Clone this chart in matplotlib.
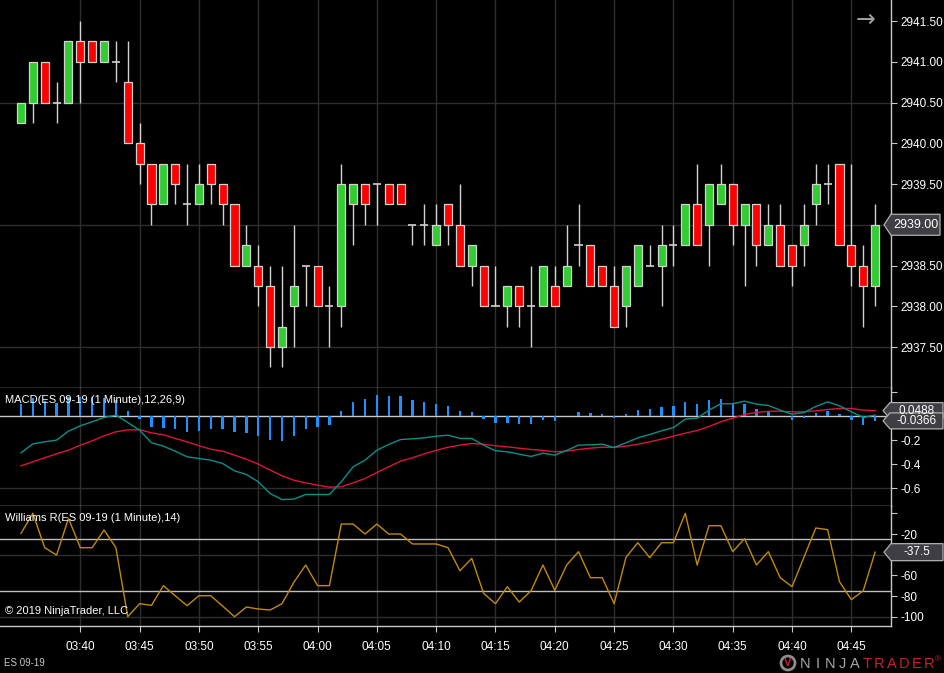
#!/usr/bin/env python3
"""ES 09-19 1-minute chart with MACD and Williams %R panels (NinjaTrader look)."""

import matplotlib

matplotlib.use("Agg")
import matplotlib.pyplot as plt  # noqa: E402
from matplotlib.patches import Polygon, Circle  # noqa: E402

# ---------------------------------------------------------------------------
# Data, one bar per minute from 03:35
# ---------------------------------------------------------------------------
OPEN = [
    2940.25, 2940.50, 2941.00, 2940.50, 2940.50, 2941.25, 2941.25, 2941.00, 2941.00, 2940.75,
    2940.00, 2939.75, 2939.25, 2939.75, 2939.25, 2939.25, 2939.75, 2939.50, 2939.25, 2938.50,
    2938.50, 2938.25, 2937.50, 2938.00, 2938.50, 2938.50, 2938.00, 2938.00, 2939.25, 2939.50,
    2939.50, 2939.50, 2939.50, 2939.00, 2939.00, 2938.75, 2939.25, 2939.00, 2938.50, 2938.50,
    2938.00, 2938.00, 2938.25, 2938.00, 2938.00, 2938.25, 2938.25, 2938.75, 2938.75, 2938.50,
    2938.25, 2938.00, 2938.25, 2938.50, 2938.50, 2938.75, 2938.75, 2939.25, 2939.00, 2939.25,
    2939.50, 2939.00, 2939.25, 2938.75, 2939.00, 2938.75, 2938.75, 2939.25, 2939.50, 2939.75,
    2938.75, 2938.50, 2938.25,
]
HIGH = [
    2940.50, 2941.00, 2941.00, 2940.75, 2941.25, 2941.50, 2941.25, 2941.25, 2941.25, 2941.25,
    2940.25, 2939.75, 2939.75, 2939.75, 2939.75, 2939.75, 2939.75, 2939.50, 2939.25, 2939.00,
    2938.75, 2938.50, 2938.50, 2939.00, 2938.50, 2938.50, 2938.25, 2939.75, 2939.50, 2939.50,
    2939.50, 2939.50, 2939.50, 2939.00, 2939.25, 2939.25, 2939.25, 2939.50, 2938.75, 2938.50,
    2938.50, 2938.25, 2938.25, 2938.50, 2938.50, 2938.50, 2939.00, 2939.25, 2938.75, 2938.50,
    2938.50, 2938.50, 2938.75, 2938.75, 2939.00, 2939.00, 2939.25, 2939.75, 2939.50, 2939.75,
    2939.50, 2939.25, 2939.25, 2939.25, 2939.25, 2938.75, 2939.25, 2939.75, 2939.75, 2939.75,
    2939.75, 2938.75, 2939.25,
]
LOW = [
    2940.25, 2940.25, 2940.50, 2940.25, 2940.50, 2940.50, 2941.00, 2941.00, 2940.75, 2940.00,
    2939.50, 2939.00, 2939.25, 2939.25, 2939.00, 2939.25, 2939.25, 2939.00, 2938.50, 2938.50,
    2938.00, 2937.25, 2937.25, 2937.50, 2938.00, 2938.00, 2937.50, 2937.75, 2938.75, 2939.00,
    2939.00, 2939.25, 2939.25, 2938.75, 2938.75, 2938.75, 2938.75, 2938.50, 2938.25, 2938.00,
    2938.00, 2937.75, 2937.75, 2937.50, 2938.00, 2938.00, 2938.25, 2938.50, 2938.25, 2938.25,
    2937.75, 2937.75, 2938.25, 2938.50, 2938.00, 2938.50, 2938.75, 2938.75, 2938.50, 2939.25,
    2938.75, 2938.25, 2938.50, 2938.75, 2938.50, 2938.25, 2938.50, 2939.00, 2939.25, 2938.75,
    2938.25, 2937.75, 2938.00,
]
CLOSE = [
    2940.50, 2941.00, 2940.50, 2940.50, 2941.25, 2941.00, 2941.00, 2941.25, 2941.00, 2940.00,
    2939.75, 2939.25, 2939.75, 2939.50, 2939.25, 2939.50, 2939.50, 2939.25, 2938.50, 2938.75,
    2938.25, 2937.50, 2937.75, 2938.25, 2938.50, 2938.00, 2938.00, 2939.50, 2939.50, 2939.25,
    2939.50, 2939.25, 2939.25, 2939.00, 2939.00, 2939.00, 2939.00, 2938.50, 2938.75, 2938.00,
    2938.00, 2938.25, 2938.00, 2938.00, 2938.50, 2938.00, 2938.50, 2938.75, 2938.25, 2938.25,
    2937.75, 2938.50, 2938.75, 2938.50, 2938.75, 2938.75, 2939.25, 2938.75, 2939.50, 2939.50,
    2939.00, 2939.25, 2938.75, 2939.00, 2938.50, 2938.50, 2939.00, 2939.50, 2939.50, 2938.75,
    2938.50, 2938.25, 2939.00,
]

MACD_LINE = [
    -0.303, -0.228, -0.211, -0.197, -0.122, -0.078, -0.044, -0.008, 0.011, -0.050,
    -0.114, -0.219, -0.247, -0.289, -0.336, -0.350, -0.364, -0.392, -0.453, -0.483,
    -0.544, -0.642, -0.692, -0.689, -0.650, -0.650, -0.650, -0.544, -0.419, -0.364,
    -0.281, -0.233, -0.192, -0.186, -0.178, -0.164, -0.156, -0.183, -0.183, -0.239,
    -0.286, -0.294, -0.314, -0.333, -0.306, -0.322, -0.283, -0.239, -0.236, -0.231,
    -0.258, -0.219, -0.178, -0.150, -0.119, -0.092, -0.022, -0.014, 0.053, 0.106,
    0.106, 0.128, 0.103, 0.092, 0.053, 0.019, 0.033, 0.083, 0.122, 0.089,
    0.039, -0.008, 0.012,
]
MACD_AVG = [
    -0.411, -0.378, -0.344, -0.311, -0.281, -0.239, -0.203, -0.161, -0.128, -0.111,
    -0.111, -0.136, -0.153, -0.183, -0.211, -0.244, -0.272, -0.289, -0.322, -0.356,
    -0.397, -0.447, -0.494, -0.531, -0.553, -0.572, -0.589, -0.586, -0.553, -0.517,
    -0.467, -0.419, -0.372, -0.344, -0.311, -0.283, -0.256, -0.239, -0.225, -0.231,
    -0.244, -0.253, -0.264, -0.275, -0.283, -0.294, -0.289, -0.275, -0.264, -0.256,
    -0.258, -0.247, -0.231, -0.211, -0.189, -0.164, -0.139, -0.117, -0.083, -0.044,
    -0.014, 0.017, 0.033, 0.044, 0.044, 0.039, 0.039, 0.047, 0.058, 0.067,
    0.067, 0.053, 0.0488,
]
MACD_DIFF = [
    0.108, 0.150, 0.133, 0.114, 0.159, 0.161, 0.159, 0.153, 0.139, 0.044,
    -0.017, -0.086, -0.094, -0.108, -0.128, -0.119, -0.103, -0.103, -0.133, -0.136,
    -0.161, -0.200, -0.203, -0.161, -0.103, -0.086, -0.067, 0.044, 0.117, 0.144,
    0.178, 0.169, 0.169, 0.136, 0.119, 0.103, 0.086, 0.044, 0.039, -0.017,
    -0.053, -0.053, -0.064, -0.064, -0.028, -0.036, 0.003, 0.039, 0.031, 0.019,
    -0.011, 0.019, 0.056, 0.064, 0.078, 0.089, 0.122, 0.103, 0.139, 0.144,
    0.114, 0.103, 0.064, 0.047, 0.005, -0.028, -0.011, 0.031, 0.047, 0.017,
    -0.028, -0.069, -0.0366,
]

WILLIAMS_R = [
    -19.4, 0.0, -33.2, -40.3, -4.9, -33.2, -33.2, -16.1, -33.2, -99.7,
    -87.2, -88.8, -69.8, -79.5, -89.1, -79.5, -79.5, -89.5, -99.7, -90.4,
    -92.3, -93.3, -87.2, -66.6, -49.9, -69.8, -69.8, -10.4, -10.4, -20.0,
    -10.4, -20.0, -20.0, -29.6, -29.6, -29.6, -33.2, -55.4, -43.5, -77.2,
    -87.2, -70.8, -85.6, -74.7, -49.9, -74.3, -49.9, -37.0, -62.1, -62.1,
    -87.2, -42.5, -28.4, -42.8, -28.4, -28.4, 0.0, -49.9, -12.0, -12.0,
    -37.0, -24.5, -49.9, -37.0, -62.1, -70.8, -42.5, -14.2, -15.8, -66.0,
    -83.3, -74.7, -37.5,
]

TIME_TICKS = [5, 10, 15, 20, 25, 30, 35, 40, 45, 50, 55, 60, 65, 70]
TIME_LABELS = ["03:40", "03:45", "03:50", "03:55", "04:00", "04:05", "04:10",
               "04:15", "04:20", "04:25", "04:30", "04:35", "04:40", "04:45"]

PRICE_TICKS = [2937.5, 2938.0, 2938.5, 2939.0, 2939.5, 2940.0, 2940.5, 2941.0, 2941.5]
PRICE_GRID = [2937.5, 2939.0, 2940.5]
MACD_TICKS = [0.2, 0.0, -0.2, -0.4, -0.6]
MACD_TICK_LABELS = ["", "", "-0.2", "-0.4", "-0.6"]
WR_TICKS = [0, -20, -40, -60, -80, -100]
WR_TICK_LABELS = ["", "-20", "", "-60", "-80", "-100"]
WR_GRID = [-40, -100]
WR_LEVELS = [-25, -75]

# ---------------------------------------------------------------------------
# Style
# ---------------------------------------------------------------------------
W, H = 944, 673
FONT = ["Liberation Sans", "DejaVu Sans"]
BG = "#000000"
GRID = "#2e2e2e"
BORDER = "#c8c8c8"
CANDLE_EDGE = "#d2d2d2"
UP = "#32cd32"
DOWN = "#ff0000"
LABEL_SIZE = 8.5


def px(x, y):
    """Pixel position (from top-left) -> figure fraction."""
    return x / W, 1.0 - y / H


def setup_axis(ax, ylim, ticks, labels):
    ax.set_facecolor(BG)
    ax.set_xlim(-1.77, 73.3)
    ax.set_ylim(*ylim)
    for side in ("left", "top"):
        ax.spines[side].set_visible(False)
    for side in ("right", "bottom"):
        ax.spines[side].set_color(BORDER)
        ax.spines[side].set_linewidth(1.0)
    ax.yaxis.tick_right()
    ax.set_yticks(ticks)
    ax.set_yticklabels(labels)
    ax.tick_params(axis="y", colors=BORDER, labelcolor="white", length=4,
                   width=0.8, pad=3, labelsize=LABEL_SIZE)
    for t in ax.get_yticklabels():
        t.set_family(FONT)
    ax.set_xticks(TIME_TICKS)
    ax.tick_params(axis="x", colors=BORDER, length=0, labelbottom=False)
    for xt in TIME_TICKS:
        ax.axvline(xt, color=GRID, lw=1.0, zorder=0)


def marker_box(fig, ax, value, text, x_tip, x_right, height, size):
    y_disp = ax.transData.transform((0, value))[1]
    y = H - y_disp
    h2 = height / 2.0
    pts = [px(x_tip, y), px(x_tip + 7, y - h2), px(x_right, y - h2),
           px(x_right, y + h2), px(x_tip + 7, y + h2)]
    fig.patches.append(Polygon(pts, closed=True, transform=fig.transFigure,
                               facecolor="#3e3e44", edgecolor="#b0b0b0",
                               lw=0.9, zorder=10))
    fig.text(*px((x_tip + 7 + x_right) / 2.0, y), text, color="white",
             fontsize=size, family=FONT, ha="center", va="center", zorder=11)


def main():
    fig = plt.figure(figsize=(W / 100, H / 100), dpi=100, facecolor=BG)

    right = 890.5 / W
    ax_p = fig.add_axes([0, 1 - 388 / H, right, 388 / H])
    ax_m = fig.add_axes([0, 1 - 506 / H, right, (506 - 388) / H])
    ax_w = fig.add_axes([0, 1 - 625.7 / H, right, (625.7 - 506) / H])

    # --- price panel -------------------------------------------------------
    # the last-price marker sits on top of its own tick label
    price_labels = ["" if v == CLOSE[-1] else f"{v:.2f}" for v in PRICE_TICKS]
    setup_axis(ax_p, (2936.997, 2941.758), PRICE_TICKS, price_labels)
    for g in PRICE_GRID:
        ax_p.axhline(g, color=GRID, lw=1.0, zorder=0)
    xs = list(range(len(OPEN)))
    ax_p.vlines(xs, LOW, HIGH, color=CANDLE_EDGE, lw=1.0, zorder=2)
    for i, (o, c) in enumerate(zip(OPEN, CLOSE)):
        if o == c:
            ax_p.hlines(c, i - 0.34, i + 0.34, color=CANDLE_EDGE, lw=1.2, zorder=3)
        else:
            ax_p.bar(i, abs(c - o), bottom=min(o, c), width=0.68,
                     color=UP if c > o else DOWN, edgecolor=CANDLE_EDGE,
                     linewidth=0.9, zorder=3)

    # --- MACD panel --------------------------------------------------------
    setup_axis(ax_m, (-0.746, 0.2375), MACD_TICKS, MACD_TICK_LABELS)
    ax_m.axhline(-0.6, color=GRID, lw=1.0, zorder=0)
    ax_m.axhline(0.0, color=BORDER, lw=1.0, zorder=1)
    ax_m.bar(xs, MACD_DIFF, width=0.2, color="#1e90ff", zorder=2)
    ax_m.plot(xs, MACD_AVG, color="#dc143c", lw=1.0, zorder=3)
    ax_m.plot(xs, MACD_LINE, color="#0a8f8a", lw=1.0, zorder=4)

    # --- Williams %R panel -------------------------------------------------
    setup_axis(ax_w, (-108.4, 7.0), WR_TICKS, WR_TICK_LABELS)
    for g in WR_GRID:
        ax_w.axhline(g, color=GRID, lw=1.0, zorder=0)
    for lv in WR_LEVELS:
        ax_w.axhline(lv, color="#bdbdbd", lw=1.0, zorder=1)
    ax_w.plot(xs, WILLIAMS_R, color="#c08a10", lw=1.0, zorder=3)
    ax_w.set_xticklabels(TIME_LABELS)
    ax_w.tick_params(axis="x", length=4, width=0.8, colors=BORDER,
                     labelcolor="white", labelbottom=True,
                     labelsize=LABEL_SIZE, pad=7)
    for t in ax_w.get_xticklabels():
        t.set_family(FONT)

    # --- markers on the price scale ---------------------------------------
    marker_box(fig, ax_p, CLOSE[-1], f"{CLOSE[-1]:.2f}", 884, 940, 21, 9)
    marker_box(fig, ax_m, MACD_AVG[-1], f"{MACD_AVG[-1]:.4f}", 883, 943, 16, 8.5)
    marker_box(fig, ax_m, MACD_DIFF[-1], f"{MACD_DIFF[-1]:.4f}", 883, 943, 16, 8.5)
    marker_box(fig, ax_w, WILLIAMS_R[-1], f"{WILLIAMS_R[-1]:.1f}", 884, 943, 17, 8.5)

    # --- captions ----------------------------------------------------------
    cap = dict(color="white", fontsize=8, family=FONT, va="center", ha="left")
    fig.text(*px(5, 400), "MACD(ES 09-19 (1 Minute),12,26,9)", **cap)
    fig.text(*px(5, 518), "Williams R(ES 09-19 (1 Minute),14)", **cap)
    fig.text(*px(5, 611), "\u00a9 2019 NinjaTrader, LLC", **cap)
    fig.text(*px(4, 663), "ES 09-19", color="#c8c8c8", fontsize=7,
             family=FONT, va="center", ha="left")
    fig.text(*px(866, 20), "\u2192", color="#a0a0a0", fontsize=17,
             family=["DejaVu Sans"], va="center", ha="center")

    # NinjaTrader logo
    cx, cy = px(788, 663)
    fig.patches.append(Circle((788, H - 663), 7, transform=None,
                              facecolor="none", edgecolor="#8c8c8c", lw=2.0))
    fig.text(cx, cy, "V", color="#c8202f", fontsize=8, family=FONT,
             ha="center", va="center", fontweight="bold")
    for k, ch in enumerate("NINJATRADER"):
        fig.text(*px(805 + k * 12.4, 664), ch,
                 color="#a8a8a8" if k < 5 else "#c8202f", fontsize=10.5,
                 family=FONT, ha="center", va="center")
    fig.text(*px(938, 660), "\u00ae", color="#c8202f", fontsize=6,
             family=FONT, ha="center", va="center")

    fig.savefig("out.png", dpi=100, facecolor=BG)
    plt.close(fig)


if __name__ == "__main__":
    main()
